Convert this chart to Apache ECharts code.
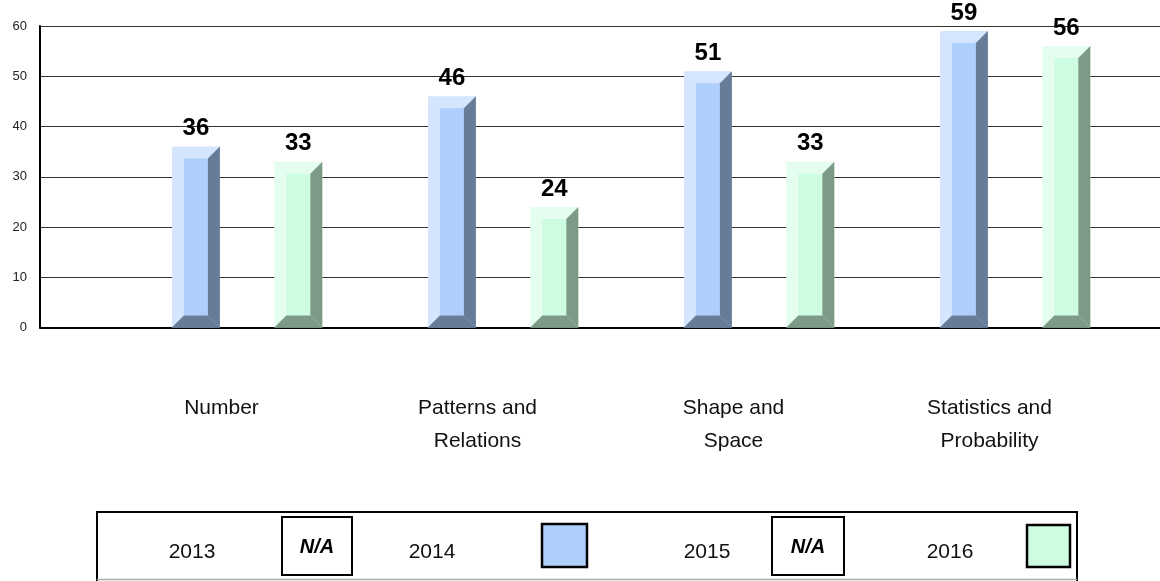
<!DOCTYPE html>
<html>
<head>
<meta charset="utf-8">
<script src="https://cdn.jsdelivr.net/npm/echarts@6/dist/echarts.min.js"></script>
<style>
  html, body { margin: 0; padding: 0; background: #fff; }
  #chart { width: 1160px; height: 581px; }
</style>
</head>
<body>
<div id="chart"></div>
<script>
// categories and values
var categories = ['Number', 'Patterns and\nRelations', 'Shape and\nSpace', 'Statistics and\nProbability'];
var years = ['2013', '2014', '2015', '2016'];
var values2014 = [36, 46, 51, 59];
var values2016 = [33, 24, 33, 56];
var yTicks = [0, 10, 20, 30, 40, 50, 60];

// light / face / dark shades for each year (null = N/A)
var shades = {
    '2014': ['#d5e5fd', '#aecffb', '#667c99'],
    '2016': ['#e4fdee', '#ccfde0', '#7c9a87']
};

var font = 'Liberation Sans, Arial, sans-serif';

function bevelBar(slotIdx, shade) {
    return function (params, api) {
        var cat = api.value(0);
        var val = api.value(1);
        var top = api.coord([cat, val]);
        var base = api.coord([cat, 0]);
        var band = api.size([1, 0])[0];
        var slot = band * 0.2;
        var w = band * 0.1875;
        var d = w / 4;
        var cx = top[0] + (slotIdx - 1.5) * slot;
        var x0 = cx - w / 2, x1 = cx + w / 2;
        var yT = top[1], yB = base[1];
        return {
            type: 'group',
            children: [
                { type: 'rect', shape: { x: x0, y: yT, width: w, height: yB - yT }, style: { fill: shade[0] } },
                { type: 'rect', shape: { x: x0 + d, y: yT + d, width: w - 2 * d, height: yB - yT - 2 * d }, style: { fill: shade[1] } },
                { type: 'polygon', shape: { points: [[x1 - d, yT + d], [x1, yT], [x1, yB], [x1 - d, yB - d]] }, style: { fill: shade[2] } },
                { type: 'polygon', shape: { points: [[x0, yB], [x0 + d, yB - d], [x1 - d, yB - d], [x1, yB]] }, style: { fill: shade[2] } },
                { type: 'text', style: { text: String(val), x: cx, y: yT - 6, align: 'center', verticalAlign: 'bottom',
                    fill: '#000', font: 'bold 24px ' + font } }
            ]
        };
    };
}

function toData(arr) {
    var out = [];
    for (var i in arr) {
        out.push([Number(i), arr[i]]);
    }
    return out;
}

// legend drawn as a boxed table like the original
var legendEls = [
    { type: 'polyline', shape: { points: [[97, 581], [97, 512], [1077, 512], [1077, 581]] }, style: { stroke: '#000', lineWidth: 2, fill: null } },
    { type: 'line', shape: { x1: 97, y1: 579.5, x2: 1077, y2: 579.5 }, style: { stroke: '#aaa', lineWidth: 1.5 } }
];
var legendText = [192, 432, 707, 950];
var legendBox = [[282, 517, 70, 58], [542, 524, 45, 43], [772, 517, 72, 58], [1027, 525, 43, 42]];
for (var k = 0; k < years.length; k++) {
    var y = years[k];
    var b = legendBox[k];
    legendEls.push({ type: 'text', style: { text: y, x: legendText[k], y: 552, align: 'center', verticalAlign: 'middle',
        fill: '#111', font: '21px ' + font } });
    if (shades[y]) {
        legendEls.push({ type: 'rect', shape: { x: b[0], y: b[1], width: b[2], height: b[3] },
            style: { fill: shades[y][1], stroke: '#000', lineWidth: 2.5 } });
    } else {
        legendEls.push({ type: 'rect', shape: { x: b[0], y: b[1], width: b[2], height: b[3] },
            style: { fill: '#fff', stroke: '#000', lineWidth: 2 } });
        legendEls.push({ type: 'text', style: { text: 'N/A', x: b[0] + b[2] / 2, y: 547, align: 'center', verticalAlign: 'middle',
            fill: '#000', font: 'italic bold 20px ' + font } });
    }
}

var myChart = echarts.init(document.getElementById('chart'));
myChart.setOption({
    animation: false,
    backgroundColor: '#fff',
    grid: [
        { left: 40, right: 0, top: 26, bottom: 253.5 },
        { left: 93.5, right: 42.5, top: 26, bottom: 253.5 }
    ],
    xAxis: [
        { gridIndex: 0, type: 'category', data: categories, axisLabel: { show: false }, axisTick: { show: false },
          axisLine: { lineStyle: { color: '#000', width: 2 } } },
        { gridIndex: 1, type: 'category', data: categories, axisTick: { show: false }, axisLine: { show: false },
          axisLabel: { margin: 64, fontSize: 21, lineHeight: 33, color: '#111', fontFamily: font } }
    ],
    yAxis: [
        { gridIndex: 0, type: 'value', min: yTicks[0], max: yTicks[yTicks.length - 1], interval: 10,
          axisLine: { show: true, lineStyle: { color: '#000', width: 2 } }, axisTick: { show: false },
          axisLabel: { margin: 13, fontSize: 13, color: '#222', fontFamily: font },
          splitLine: { lineStyle: { color: '#333', width: 1 } } },
        { gridIndex: 1, type: 'value', min: yTicks[0], max: yTicks[yTicks.length - 1], show: false, splitLine: { show: false } }
    ],
    series: [
        { name: '2014', type: 'custom', xAxisIndex: 1, yAxisIndex: 1, renderItem: bevelBar(1, shades['2014']), data: toData(values2014) },
        { name: '2016', type: 'custom', xAxisIndex: 1, yAxisIndex: 1, renderItem: bevelBar(3, shades['2016']), data: toData(values2016) }
    ],
    graphic: legendEls
});
</script>
</body>
</html>
